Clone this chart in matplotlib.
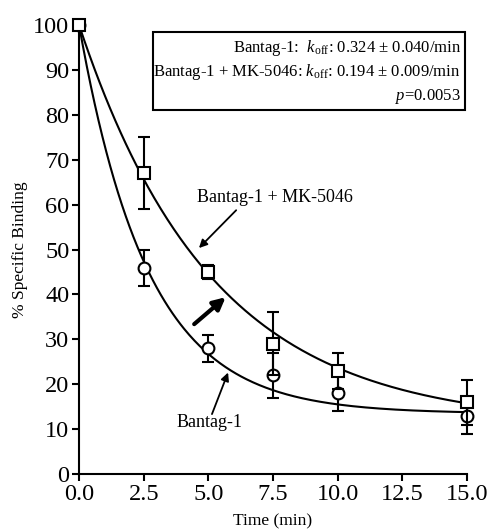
import numpy as np
import matplotlib
matplotlib.use("Agg")
import matplotlib.pyplot as plt
from matplotlib.patches import Rectangle

plt.rcParams['font.family'] = ['Liberation Serif', 'DejaVu Serif']
plt.rcParams['mathtext.fontset'] = 'custom'
plt.rcParams['mathtext.rm'] = 'Liberation Serif'
plt.rcParams['mathtext.it'] = 'Liberation Serif:italic'

# Measured points (mean +/- SEM)
time = [0.0, 2.5, 5.0, 7.5, 10.0, 15.0]
bantag = [100, 46, 28, 22, 18, 13]
bantag_err = [0, 4, 3, 5, 4, 4]
bantag_mk = [100, 67, 45, 29, 23, 16]
bantag_mk_err = [0, 8, 1.5, 7, 4, 5]

# One-phase decay fits (plateau, rate per min) as drawn
fit_bantag = (13.5, 0.375)
fit_bantag_mk = (11.0, 0.195)

fig = plt.figure(figsize=(4.88, 5.31), dpi=100)
ax = fig.add_axes([0.162, 0.107, 0.795, 0.846])

t = np.linspace(0, 15, 300)
for (plateau, k) in (fit_bantag, fit_bantag_mk):
    ax.plot(t, plateau + (100 - plateau) * np.exp(-k * t), color='black', lw=1.5)

ax.errorbar(time, bantag, yerr=bantag_err, fmt='o', mfc='white', mec='black',
            ms=8.5, mew=1.5, ecolor='black', elinewidth=1.5, capsize=4.5,
            capthick=1.5, clip_on=False, zorder=3)
ax.errorbar(time, bantag_mk, yerr=bantag_mk_err, fmt='s', mfc='white', mec='black',
            ms=9, mew=1.5, ecolor='black', elinewidth=1.5, capsize=4.5,
            capthick=1.5, clip_on=False, zorder=4)

ax.set_xlim(0, 15)
ax.set_ylim(0, 100)
ax.set_xticks(np.arange(0, 15.1, 2.5))
ax.set_xticklabels([f"{v:.1f}" for v in np.arange(0, 15.1, 2.5)])
ax.set_yticks(range(0, 101, 10))
ax.tick_params(labelsize=17.5, width=1.5, length=5, direction='out', pad=2)
for side in ('top', 'right'):
    ax.spines[side].set_visible(False)
for side in ('left', 'bottom'):
    ax.spines[side].set_linewidth(1.5)

ax.set_xlabel("Time (min)", fontsize=12.5, labelpad=6)
ax.set_ylabel("% Specific Binding", fontsize=12.5, labelpad=4)

# annotations
ax.annotate("Bantag-1 + MK-5046", xy=(4.56, 49.9), xytext=(4.56, 61.7),
            fontsize=13, va='center', ha='left')
ax.annotate("", xy=(4.56, 49.9), xytext=(6.15, 59.2),
            arrowprops=dict(arrowstyle='-|>', color='black', lw=1.3,
                            mutation_scale=12))
ax.annotate("Bantag-1", xy=(3.75, 11.4), fontsize=13, va='center', ha='left')
ax.annotate("", xy=(5.8, 23.2), xytext=(5.1, 12.8),
            arrowprops=dict(arrowstyle='-|>', color='black', lw=1.3,
                            mutation_scale=12))
ax.annotate("", xy=(5.75, 39.8), xytext=(4.37, 33.0),
            arrowprops=dict(arrowstyle='-|>', color='black', lw=3,
                            mutation_scale=18))

# stats box
W, H = 488, 531
fig.patches.append(Rectangle((153 / W, 1 - 110 / H), (465 - 153) / W, (110 - 32) / H,
                             transform=fig.transFigure, fill=False,
                             edgecolor='black', lw=1.5))
box_lines = [r"Bantag-1:  $k_{\rm off}$: 0.324 ± 0.040/min",
             r"Bantag-1 + MK-5046: $k_{\rm off}$: 0.194 ± 0.009/min",
             r"$p$=0.0053"]
for line, y in zip(box_lines, [48, 72, 96]):
    fig.text(461 / W, 1 - y / H, line, ha='right', va='center', fontsize=12)

fig.savefig("out.png", dpi=100)
